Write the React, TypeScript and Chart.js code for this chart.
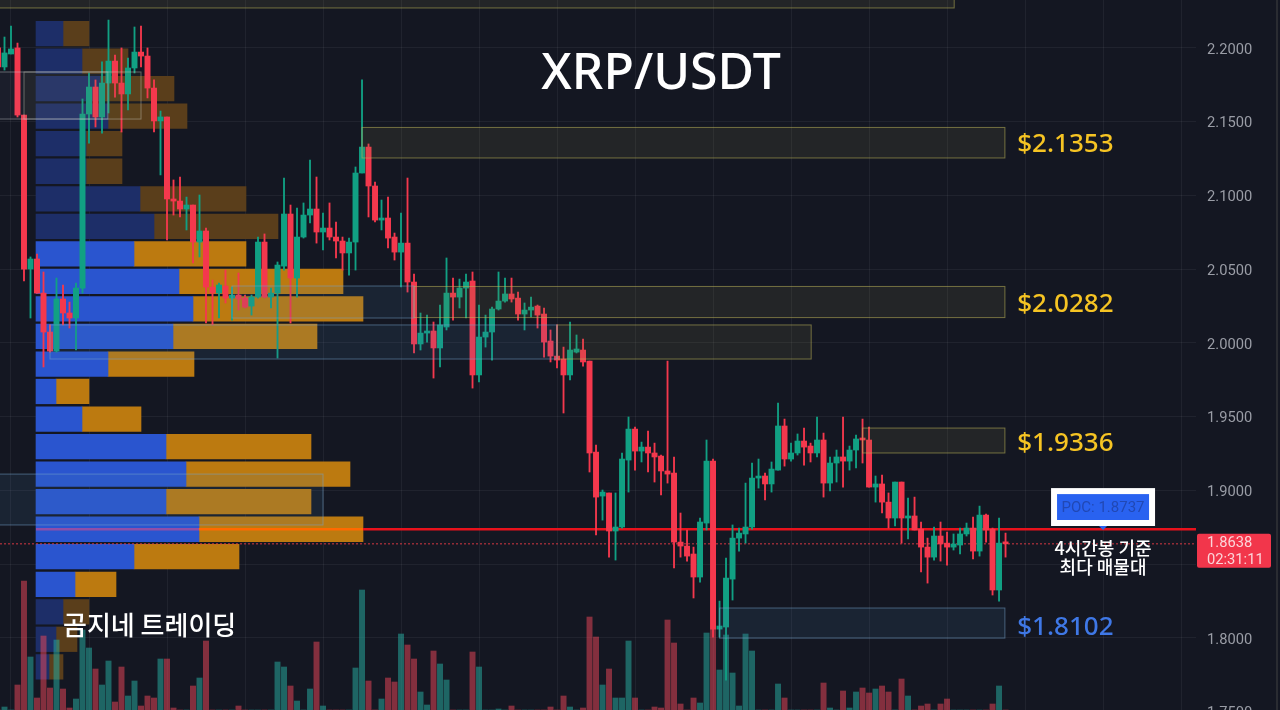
import { useEffect, useRef } from "react"
import { Chart, registerables } from "chart.js"

Chart.register(...registerables)

// 4h candles, oldest first
const opens = [2.2000,2.1871,2.1959,2.2000,2.1545,2.0501,2.0569,2.0338,2.0074,1.9945,2.0298,2.0203,2.0169,2.0372,2.1552,2.1735,2.1532,2.1762,2.1911,2.1762,2.1688,2.1864,2.1972,2.1945,2.1728,2.1505,2.1532,2.0976,2.0962,2.0908,2.0935,2.0684,2.0759,2.0379,2.0338,2.0386,2.0304,2.0325,2.0304,2.0250,2.0311,2.0684,2.0311,2.0338,2.0521,2.0874,2.0440,2.0718,2.0867,2.0908,2.0752,2.0779,2.0718,2.0691,2.0610,2.0684,2.1152,2.1328,2.1064,2.0833,2.0847,2.0718,2.0616,2.0677,2.0413,1.9993,2.0067,2.0081,1.9966,2.0108,2.0338,2.0311,2.0372,2.0420,1.9783,2.0040,2.0074,2.0230,2.0284,2.0332,2.0304,2.0196,2.0223,2.0250,2.0196,2.0013,1.9911,1.9891,1.9783,1.9938,1.9952,1.9877,1.9260,1.8962,1.8983,1.8725,1.8752,1.9206,1.9416,1.9267,1.9294,1.9254,1.9233,1.9132,1.9118,1.8650,1.8623,1.8569,1.8413,1.8779,1.9199,1.8060,1.8074,1.8399,1.8677,1.8705,1.8752,1.9084,1.9098,1.9044,1.9138,1.9437,1.9213,1.9254,1.9335,1.9301,1.9254,1.9342,1.9050,1.9186,1.9227,1.9199,1.9274,1.9349,1.9342,1.9023,1.9044,1.8921,1.8813,1.9057,1.8813,1.8827,1.8738,1.8616,1.8548,1.8691,1.8643,1.8616,1.8630,1.8705,1.8745,1.8589,1.8833,1.8738,1.8325,1.8650]
const closes = [2.1871,2.1966,2.1993,2.1545,2.0501,2.0569,2.0338,2.0074,1.9945,2.0298,2.0203,2.0169,2.0372,2.1552,2.1735,2.1532,2.1762,2.1911,2.1762,2.1688,2.1864,2.1972,2.1945,2.1728,2.1505,2.1532,2.0976,2.0962,2.0908,2.0935,2.0684,2.0759,2.0379,2.0338,2.0393,2.0304,2.0325,2.0298,2.0243,2.0311,2.0684,2.0311,2.0338,2.0528,2.0874,2.0440,2.0718,2.0867,2.0908,2.0752,2.0779,2.0718,2.0691,2.0610,2.0684,2.1152,2.1328,2.1064,2.0833,2.0847,2.0711,2.0616,2.0677,2.0413,1.9993,2.0067,2.0081,1.9966,2.0122,2.0338,2.0311,2.0372,2.0413,1.9783,2.0040,2.0074,2.0230,2.0284,2.0332,2.0298,2.0196,2.0223,2.0243,2.0189,2.0006,1.9911,1.9884,1.9783,1.9952,1.9959,1.9871,1.9254,1.8955,1.8989,1.8725,1.8752,1.9213,1.9416,1.9267,1.9294,1.9254,1.9227,1.9132,1.9111,1.8650,1.8623,1.8555,1.8413,1.8786,1.9199,1.8060,1.8081,1.8406,1.8677,1.8711,1.8752,1.9084,1.9091,1.9044,1.9145,1.9437,1.9213,1.9254,1.9335,1.9294,1.9254,1.9342,1.9050,1.9186,1.9227,1.9199,1.9274,1.9349,1.9342,1.9023,1.9044,1.8921,1.8813,1.9057,1.8813,1.8827,1.8732,1.8616,1.8548,1.8691,1.8637,1.8616,1.8637,1.8705,1.8745,1.8589,1.8833,1.8732,1.8325,1.8643,1.8638]
const highs = [2.2033,2.2074,2.2149,2.2033,2.1545,2.0583,2.0603,2.0481,2.0122,2.0440,2.0393,2.0277,2.0406,2.1654,2.1830,2.1783,2.1905,2.2189,2.1952,2.2000,2.1932,2.2142,2.2149,2.2000,2.1783,2.1572,2.1532,2.1105,2.1125,2.0989,2.0935,2.1003,2.0779,2.0426,2.0406,2.0494,2.0379,2.0474,2.0325,2.0325,2.0718,2.0739,2.0372,2.0549,2.1118,2.0935,2.0915,2.0949,2.1240,2.1125,2.0881,2.0949,2.0820,2.0718,2.0711,2.1193,2.1783,2.1349,2.1091,2.0969,2.0989,2.0745,2.0881,2.1118,2.0467,2.0203,2.0189,2.0142,2.0257,2.0576,2.0440,2.0433,2.0467,2.0481,2.0257,2.0189,2.0243,2.0481,2.0440,2.0440,2.0345,2.0271,2.0311,2.0257,2.0237,2.0088,2.0122,1.9972,2.0142,2.0054,2.0027,1.9877,1.9308,1.9003,1.8983,1.8983,1.9254,1.9498,1.9430,1.9328,1.9403,1.9321,1.9240,1.9877,1.9227,1.8847,1.8732,1.8616,1.8813,1.9342,1.9213,1.8250,1.8542,1.8766,1.8745,1.9050,1.9186,1.9213,1.9118,1.9193,1.9593,1.9484,1.9321,1.9383,1.9423,1.9321,1.9498,1.9389,1.9227,1.9274,1.9498,1.9301,1.9376,1.9484,1.9430,1.9098,1.9105,1.8983,1.9057,1.9057,1.8949,1.8955,1.8786,1.8677,1.8752,1.8786,1.8718,1.8705,1.8745,1.8779,1.8820,1.8894,1.8840,1.8745,1.8813,1.8711]
const lows = [2.1850,2.1850,2.1959,2.1532,2.0420,2.0169,2.0338,1.9837,1.9938,1.9938,2.0122,2.0101,1.9952,2.0338,2.1355,2.1464,2.1423,2.1559,2.1667,2.1430,2.1579,2.1830,2.1871,2.1661,2.1430,2.1139,2.0698,2.0867,2.0854,2.0766,2.0542,2.0583,2.0135,2.0122,2.0169,2.0271,2.0155,2.0223,2.0237,2.0189,2.0304,2.0304,2.0237,1.9898,2.0494,2.0135,2.0311,2.0711,2.0813,2.0677,2.0630,2.0698,2.0576,2.0494,2.0460,2.0494,2.1152,2.0854,2.0820,2.0766,2.0644,2.0562,2.0379,2.0345,1.9932,1.9952,2.0006,1.9762,1.9837,2.0088,2.0155,2.0237,2.0169,1.9694,1.9735,1.9972,1.9884,2.0223,2.0277,2.0277,2.0155,2.0088,2.0176,2.0101,1.9904,1.9871,1.9830,1.9525,1.9749,1.9932,1.9843,1.9125,1.8698,1.8799,1.8548,1.8528,1.8745,1.8989,1.9138,1.9193,1.9125,1.9057,1.8969,1.9050,1.8474,1.8548,1.8521,1.8271,1.8379,1.8732,1.8006,1.8006,1.7714,1.8257,1.8589,1.8643,1.8738,1.9016,1.8935,1.8989,1.9138,1.9165,1.9199,1.9240,1.9172,1.9193,1.9227,1.8955,1.8996,1.9057,1.9023,1.9138,1.9152,1.9186,1.9023,1.8921,1.8847,1.8745,1.8759,1.8643,1.8671,1.8732,1.8447,1.8372,1.8528,1.8521,1.8494,1.8596,1.8569,1.8691,1.8535,1.8555,1.8650,1.8291,1.8250,1.8548]
const volumes = [0,3,0,25,129,53,12,74,22,70,21,2,11,80,62,41,25,49,8,43,14,29,4,14,12,51,51,2,0,0,24,32,69,0,0,0,0,4,0,0,0,0,0,48,43,24,9,0,21,68,4,0,0,0,0,42,120,29,0,11,32,28,76,65,51,18,5,59,46,30,0,0,0,58,43,0,0,1,0,4,0,0,0,0,0,3,0,14,3,0,2,93,73,25,41,12,12,69,12,0,0,3,2,90,67,6,0,12,7,77,81,40,75,37,4,76,59,0,0,0,26,12,0,0,0,0,0,27,2,0,19,2,18,22,17,21,24,18,0,31,14,0,4,6,0,6,11,0,0,0,0,0,0,6,24,0]

// visible range volume profile
const profilePrices = [2.2097,2.1911,2.1724,2.1537,2.1351,2.1164,2.0977,2.0791,2.0604,2.0417,2.0231,2.0044,1.9857,1.9671,1.9484,1.9297,1.9111,1.8924,1.8737,1.8551,1.8364,1.8177,1.7991,1.7804]
const profileBuy = [27,46,64,72,50,50,104,118,98,143,157,137,72,20,46,130,150,130,163,98,39,27,20,13]
const profileSell = [26,46,74,79,36,36,106,124,112,164,170,144,86,33,59,145,164,145,164,105,41,26,21,14]
const profileDim = [true,true,true,true,true,true,true,true,false,false,false,false,false,false,false,false,false,false,false,false,false,true,true,true]

const pocPrice = 1.8737
const lastPrice = 1.8638
const yTickStep = 0.05
const hiddenTick = 1.85 // sits behind the last price tag

// zones: [from bar, to bar, top price, bottom price, kind]
const zones: [number, number, number, number, string][] = [
  [-3, 145.1, 2.24, 2.2271, "gold"],
  [54, 152.9, 2.1461, 2.1254, "gold"],
  [62, 152.9, 2.0383, 2.0172, "gold"],
  [84, 123.1, 2.0122, 1.9891, "gold"],
  [131, 152.9, 1.9423, 1.9254, "gold"],
  [34, 62, 2.0386, 2.0169, "blue"],
  [6, 84, 2.0122, 1.9891, "blue"],
  [-3, 48, 1.9111, 1.8766, "blue"],
  [109, 152.9, 1.8203, 1.7999, "blue"],
  [-3, 14.9, 2.1837, 2.1518, "gray"],
  [2, 20, 2.1837, 2.1518, "olive"],
]

// texts: [text, bar, price, color, font, align]
const notes: [string, number, number, string, string, CanvasTextAlign][] = [
  ["XRP/USDT", 100, 2.1817, "#ffffff", "500 50px 'Noto Sans'", "center"],
  ["$2.1353", 154.8, 2.1348, "#f6c423", "500 26px 'Noto Sans'", "left"],
  ["$2.0282", 154.8, 2.0257, "#f6c423", "500 26px 'Noto Sans'", "left"],
  ["$1.9336", 154.8, 1.9321, "#f6c423", "500 26px 'Noto Sans'", "left"],
  ["$1.8102", 154.8, 1.8067, "#3f78e6", "500 26px 'Noto Sans'", "left"],
  ["곰지네 트레이딩", 8, 1.8088, "#ffffff", "500 26px 'Noto Sans CJK KR'", "left"],
  ["4시간봉 기준", 168, 1.8609, "#ffffff", "500 18px 'Noto Sans CJK KR'", "center"],
  ["최다 매물대", 168, 1.8480, "#ffffff", "500 18px 'Noto Sans CJK KR'", "center"],
]

const BG = "#141722"
const UP = "#11a083"
const DOWN = "#f4384d"
const GRID = "rgba(255,255,255,0.055)"
const zoneStyle: Record<string, [string, string]> = {
  gold: ["rgba(190,180,90,0.55)", "rgba(130,125,70,0.14)"],
  blue: ["rgba(120,165,205,0.5)", "rgba(70,120,170,0.13)"],
  gray: ["rgba(205,210,215,0.42)", "rgba(170,185,215,0.05)"],
  olive: ["rgba(205,205,190,0.42)", "rgba(120,115,70,0.08)"],
}

const barX = (i: number) => i - 2

const annotations = {
  id: "annotations",
  afterDatasetsDraw(chart: any) {
    const { ctx, scales, chartArea } = chart
    const px = (v: number) => scales.x.getPixelForValue(v)
    const py = (v: number) => scales.y.getPixelForValue(v)
    ctx.save()

    zones.forEach(([a, b, top, bottom, kind]) => {
      const [stroke, fill] = zoneStyle[kind]
      ctx.fillStyle = fill
      ctx.strokeStyle = stroke
      ctx.lineWidth = 1
      ctx.fillRect(px(a), py(top), px(b) - px(a), py(bottom) - py(top))
      ctx.strokeRect(px(a), py(top), px(b) - px(a), py(bottom) - py(top))
    })

    ctx.textBaseline = "middle"
    notes.forEach(([text, bar, price, color, font, align]) => {
      ctx.font = font
      ctx.fillStyle = color
      ctx.textAlign = align
      ctx.fillText(text, px(bar), py(price))
    })

    // POC callout
    const boxL = px(160)
    const boxR = px(176)
    const boxT = py(1.9016)
    const boxB = py(1.8759)
    ctx.fillStyle = "#ffffff"
    ctx.fillRect(boxL, boxT, boxR - boxL, boxB - boxT)
    ctx.fillStyle = "#2962f0"
    ctx.fillRect(boxL + 6, boxT + 6, boxR - boxL - 12, boxB - boxT - 12)
    ctx.beginPath()
    ctx.moveTo(px(168) - 4, boxB)
    ctx.lineTo(px(168) + 4, boxB)
    ctx.lineTo(px(168), boxB + 4)
    ctx.closePath()
    ctx.fill()
    ctx.font = "15px Roboto"
    ctx.fillStyle = "#2148b4"
    ctx.textAlign = "center"
    ctx.fillText(`POC: ${pocPrice.toFixed(4)}`, px(168), (boxT + boxB) / 2 + 1)

    // last price tag on the axis
    const tagY = py(lastPrice) + 7
    ctx.fillStyle = "#f2364b"
    ctx.beginPath()
    ctx.roundRect(chartArea.right + 1, tagY - 17, 74, 34, 2)
    ctx.fill()
    ctx.fillStyle = "#fbd5d9"
    ctx.textAlign = "left"
    ctx.font = "14.7px Roboto"
    ctx.fillText(lastPrice.toFixed(4), chartArea.right + 11, tagY - 8)
    ctx.fillText("02:31:11", chartArea.right + 11, tagY + 9)

    // window edge on the right of the price axis
    ctx.fillStyle = "#2a2c32"
    ctx.fillRect(1276, 0, 2, chart.height)
    ctx.restore()
  },
}

export default function App() {
  const chartRef = useRef<HTMLCanvasElement>(null)

  useEffect(() => {
    if (!chartRef.current) return
    document.body.style.margin = "0"
    document.body.style.background = BG

    const isUp = (i: number) => closes[i] >= opens[i]
    const profileBar = (id: string, from: number[], to: number[], bright: string, dim: string) => ({
      label: id,
      indexAxis: "y",
      xAxisID: "xp",
      yAxisID: "y",
      grouped: false,
      barThickness: 24.6,
      order: 6,
      backgroundColor: profileDim.map((d) => (d ? dim : bright)),
      data: profilePrices.map((p, i) => ({ y: p, x: [from[i], to[i]] })),
    })
    const flatLine = (from: number, to: number, price: number, color: string, width: number, dash: number[] = []) => ({
      type: "line",
      xAxisID: "xp",
      yAxisID: "y",
      order: 4,
      borderColor: color,
      borderWidth: width,
      borderDash: dash,
      pointRadius: 0,
      data: [
        { x: from, y: price },
        { x: to, y: price },
      ],
    })
    const pocBuy = profileBuy[18]
    const pocEnd = pocBuy + profileSell[18]

    const chart = new Chart(chartRef.current, {
      type: "bar",
      data: {
        datasets: [
          profileBar("Buy", profileBuy.map(() => 0), profileBuy, "#2a55cf", "#1d2e68"),
          profileBar("Sell", profileBuy, profileBuy.map((b, i) => b + profileSell[i]), "#bc7a10", "#5a3e1b"),
          {
            label: "Volume",
            xAxisID: "x",
            yAxisID: "vol",
            grouped: false,
            barThickness: 5.3,
            order: 5,
            backgroundColor: volumes.map((_, i) => (isUp(i) ? "rgba(38,166,154,0.55)" : "rgba(242,72,90,0.5)")),
            data: volumes.map((v, i) => ({ x: barX(i), y: v })),
          },
          flatLine(-36, 1160, lastPrice, "rgba(235,60,70,0.9)", 1, [2, 2]),
          flatLine(pocEnd, 1160, pocPrice, "#e8121c", 2.7),
          flatLine(pocBuy, pocEnd, pocPrice, "#ff6a00", 2.7),
          flatLine(0, pocBuy, pocPrice, "#8f4fa8", 2.7),
          {
            label: "Wicks",
            xAxisID: "x",
            yAxisID: "y",
            grouped: false,
            barThickness: 1.2,
            order: 3,
            backgroundColor: lows.map((_, i) => (isUp(i) ? UP : DOWN)),
            data: lows.map((l, i) => ({ x: barX(i), y: [l, highs[i]] })),
          },
          {
            label: "Candles",
            xAxisID: "x",
            yAxisID: "y",
            grouped: false,
            barThickness: 5.3,
            minBarLength: 2,
            order: 2,
            backgroundColor: opens.map((_, i) => (isUp(i) ? UP : DOWN)),
            data: opens.map((o, i) => ({ x: barX(i), y: [o, closes[i]] })),
          },
        ] as any,
      },
      options: {
        responsive: false,
        animation: false,
        layout: { padding: 0 },
        plugins: {
          legend: { display: false },
          tooltip: { enabled: false },
        },
        scales: {
          x: {
            type: "linear",
            position: "bottom",
            offset: false,
            min: -1.692,
            max: 182.3,
            grid: { color: GRID, drawTicks: false, offset: false },
            border: { display: false },
            ticks: { display: false, stepSize: 12, includeBounds: false },
            afterFit: (scale: any) => {
              scale.height = 0
            },
          },
          xp: {
            type: "linear",
            axis: "x",
            display: false,
            offset: false,
            min: -36,
            max: 1160,
          },
          y: {
            type: "linear",
            position: "right",
            offset: false,
            min: 1.7376,
            max: 2.2325,
            grid: { color: GRID, drawTicks: false, offset: false },
            border: { display: false },
            ticks: {
              stepSize: yTickStep,
              includeBounds: false,
              padding: 11,
              labelOffset: 2,
              color: "#9a9da6",
              font: { family: "Roboto", size: 14.7 },
              callback: (v: any) => (Math.abs(Number(v) - hiddenTick) < 0.001 ? "" : Number(v).toFixed(4)),
            },
            afterFit: (scale: any) => {
              scale.width = 84
              // tick padding would otherwise shrink the plot height
              scale.paddingTop = 0
              scale.paddingBottom = 0
            },
          },
          vol: {
            type: "linear",
            axis: "y",
            display: false,
            offset: false,
            min: -20,
            max: 710,
          },
        },
      } as any,
      plugins: [annotations],
    })

    return () => {
      chart.destroy()
    }
  }, [])

  return (
    <div style={{ width: 1280, height: 710, overflow: "hidden", background: BG }}>
      <canvas ref={chartRef} width={1280} height={730} style={{ display: "block" }} />
    </div>
  )
}
